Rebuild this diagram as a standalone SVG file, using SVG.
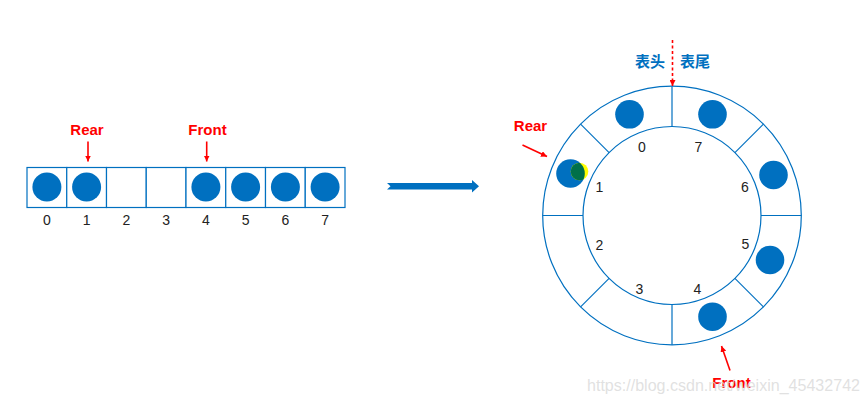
<svg xmlns="http://www.w3.org/2000/svg" width="868" height="405" viewBox="0 0 868 405">
<defs>
<marker id="rh" viewBox="0 0 10 10" refX="10" refY="5" markerWidth="6" markerHeight="6" markerUnits="userSpaceOnUse" orient="auto">
<path d="M0,0 L10,5 L0,10 z" fill="#FF0000"/>
</marker>
<clipPath id="b1c"><circle cx="570.5" cy="173.5" r="14.3"/></clipPath>
</defs>
<style>
.cell{fill:#fff;stroke:#0070C0;stroke-width:1.2}
.ball{fill:#0070C0}
.ring{fill:none;stroke:#0070C0;stroke-width:1.2}
.idx{font-family:"Liberation Sans",Arial,sans-serif;font-size:14px;fill:#222;text-anchor:middle}
.lbl{font-family:"Liberation Sans",Arial,sans-serif;font-size:15px;font-weight:bold;fill:#FF0000;text-anchor:middle}
.cn{font-family:"Noto Sans CJK SC",sans-serif;font-size:15px;font-weight:bold;fill:#0070C0;text-anchor:middle}
.ptr{stroke:#FF0000;stroke-width:1.6;fill:none}
</style>
<rect width="868" height="405" fill="#fff"/>

<g id="array">
<rect class="cell" x="27" y="167.5" width="39.75" height="40"/>
<rect class="cell" x="66.75" y="167.5" width="39.75" height="40"/>
<rect class="cell" x="106.5" y="167.5" width="39.75" height="40"/>
<rect class="cell" x="146.25" y="167.5" width="39.75" height="40"/>
<rect class="cell" x="186" y="167.5" width="39.75" height="40"/>
<rect class="cell" x="225.75" y="167.5" width="39.75" height="40"/>
<rect class="cell" x="265.5" y="167.5" width="39.75" height="40"/>
<rect class="cell" x="305.25" y="167.5" width="39.75" height="40"/>
<circle class="ball" cx="46.9" cy="187" r="14.5"/>
<circle class="ball" cx="86.6" cy="187" r="14.5"/>
<circle class="ball" cx="205.9" cy="187" r="14.5"/>
<circle class="ball" cx="245.6" cy="187" r="14.5"/>
<circle class="ball" cx="285.4" cy="187" r="14.5"/>
<circle class="ball" cx="325.1" cy="187" r="14.5"/>
<text class="idx" x="46.9" y="225">0</text>
<text class="idx" x="86.6" y="225">1</text>
<text class="idx" x="126.4" y="225">2</text>
<text class="idx" x="166.1" y="225">3</text>
<text class="idx" x="205.9" y="225">4</text>
<text class="idx" x="245.6" y="225">5</text>
<text class="idx" x="285.4" y="225">6</text>
<text class="idx" x="325.1" y="225">7</text>
</g>

<g id="array-labels">
<text class="lbl" x="87" y="135">Rear</text>
<text class="lbl" x="207.5" y="135">Front</text>
</g>

<g id="big-arrow">
<polygon points="387,183 472,183 472,180 479,186.3 472,192.6 472,189.6 387,189.6 390.5,186.3" fill="#0070C0"/>
</g>

<g id="ring">
<circle class="ring" cx="672" cy="215.5" r="129.3"/>
<circle class="ring" cx="672" cy="215.5" r="89"/>
<line class="ring" x1="672" y1="126.5" x2="672" y2="86.2"/>
<line class="ring" x1="672" y1="304.5" x2="672" y2="344.8"/>
<line class="ring" x1="583" y1="215.5" x2="542.7" y2="215.5"/>
<line class="ring" x1="761" y1="215.5" x2="801.3" y2="215.5"/>
<line class="ring" x1="609.1" y1="152.6" x2="580.6" y2="124.1"/>
<line class="ring" x1="734.9" y1="152.6" x2="763.4" y2="124.1"/>
<line class="ring" x1="609.1" y1="278.4" x2="580.6" y2="306.9"/>
<line class="ring" x1="734.9" y1="278.4" x2="763.4" y2="306.9"/>
</g>

<g id="ring-balls">
<circle class="ball" cx="629.5" cy="114.3" r="14.3"/>
<circle class="ball" cx="712.5" cy="114.3" r="14.3"/>
<circle class="ball" cx="773.5" cy="175" r="14.3"/>
<circle class="ball" cx="770" cy="260" r="14.3"/>
<circle class="ball" cx="712.5" cy="316.7" r="14.3"/>
<circle class="ball" cx="570.5" cy="173.5" r="14.3"/>
<circle cx="579.5" cy="171.5" r="8.8" fill="#FFFF00"/>
<circle cx="579.5" cy="171.5" r="8.8" fill="#00704A" clip-path="url(#b1c)"/>
</g>

<g id="ring-indices">
<text class="idx" x="642" y="152">0</text>
<text class="idx" x="698.5" y="152">7</text>
<text class="idx" x="599.5" y="192">1</text>
<text class="idx" x="745" y="192">6</text>
<text class="idx" x="599.5" y="250">2</text>
<text class="idx" x="745.5" y="249">5</text>
<text class="idx" x="639.5" y="294">3</text>
<text class="idx" x="697.5" y="294">4</text>
</g>

<g id="ring-labels">
<text class="cn" x="650" y="67">表头</text>
<text class="cn" x="695" y="67">表尾</text>
<text class="lbl" x="530.5" y="131">Rear</text>
<text class="lbl" x="731.5" y="388">Front</text>
</g>

<g id="connectors">
<line class="ptr" x1="88" y1="141.5" x2="88" y2="161.5" marker-end="url(#rh)"/>
<line class="ptr" x1="206.7" y1="141.5" x2="206.7" y2="161.5" marker-end="url(#rh)"/>
<line class="ptr" x1="522.5" y1="145" x2="547" y2="156.5" marker-end="url(#rh)"/>
<line class="ptr" x1="730" y1="370.5" x2="721.5" y2="346" marker-end="url(#rh)"/>
<line class="ptr" x1="672.5" y1="40" x2="672.5" y2="86" stroke-dasharray="3,2.5" stroke-width="1.3" marker-end="url(#rh)"/>
</g>

<text x="587" y="391" font-family="Liberation Sans,Arial,sans-serif" font-size="16" fill="#d9d9d9" fill-opacity="0.8" textLength="273" lengthAdjust="spacingAndGlyphs">https://blog.csdn.net/weixin_45432742</text>
</svg>
